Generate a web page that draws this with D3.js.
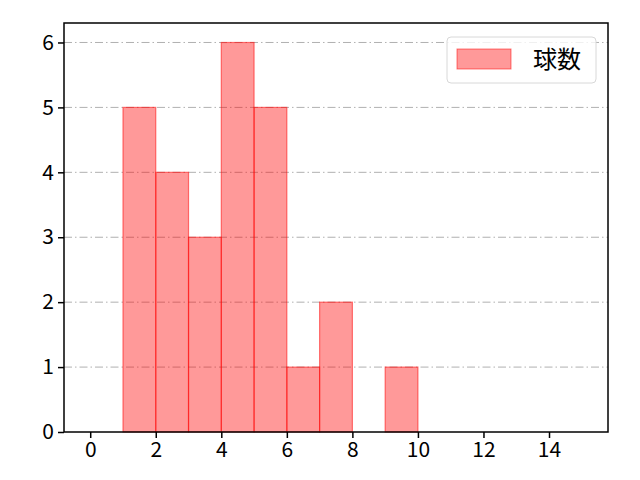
<!DOCTYPE html>
<html>
<head>
<meta charset="utf-8">
<script src="https://cdn.jsdelivr.net/npm/d3@7"></script>
<style>
  body { margin: 0; background: #fff; }
  text { font-family: "Noto Sans CJK JP", "Noto Sans", sans-serif; }
</style>
</head>
<body>
<svg id="chart" width="640" height="480"></svg>
<script>
// histogram bins (left edge) and counts
const binStarts = [1, 2, 3, 4, 5, 6, 7, 8, 9];
const counts = [5, 4, 3, 6, 5, 1, 2, 0, 1];
const xTicks = [0, 2, 4, 6, 8, 10, 12, 14];
const yTicks = [0, 1, 2, 3, 4, 5, 6];
const seriesName = "球数";

const svg = d3.select("#chart");
const m = { left: 64, right: 608, top: 23, bottom: 432 };

const x = d3.scaleLinear().domain([-0.8, 15.8]).range([m.left, m.right]);
const y = d3.scaleLinear().domain([0, 6.3]).range([m.bottom, m.top]);

// grid (horizontal, dash-dot)
svg.append("g").selectAll("line").data(yTicks.filter(d => d > 0)).join("line")
    .attr("x1", m.left).attr("x2", m.right)
    .attr("y1", d => y(d)).attr("y2", d => y(d))
    .attr("stroke", "#b0b0b0").attr("stroke-width", 1)
    .attr("stroke-dasharray", "8 3 1.5 3");

// bars
const bins = binStarts.map((s, i) => ({ x0: s, x1: s + 1, n: counts[i] })).filter(d => d.n > 0);
svg.append("g").selectAll("rect").data(bins).join("rect")
    .attr("x", d => x(d.x0)).attr("width", d => x(d.x1) - x(d.x0))
    .attr("y", d => y(d.n)).attr("height", d => y(0) - y(d.n))
    .attr("fill", "rgba(255,0,0,0.4)")
    .attr("stroke", "rgba(255,0,0,0.5)").attr("stroke-width", 1.2);

// axes
const xAxis = svg.append("g").attr("transform", `translate(0,${m.bottom})`)
    .call(d3.axisBottom(x).tickValues(xTicks).tickSize(6).tickPadding(4).tickFormat(d3.format("d")));
const yAxis = svg.append("g").attr("transform", `translate(${m.left},0)`)
    .call(d3.axisLeft(y).tickValues(yTicks).tickSize(6).tickPadding(4).tickFormat(d3.format("d")));
[xAxis, yAxis].forEach(a => {
    a.select(".domain").remove();
    a.attr("font-size", null).attr("font-family", null);
    a.selectAll(".tick line").attr("stroke", "#000").attr("stroke-width", 1.5);
    a.selectAll(".tick text").style("font-size", "21px").attr("fill", "#000");
});

// frame
svg.append("rect")
    .attr("x", m.left).attr("y", m.top)
    .attr("width", m.right - m.left).attr("height", m.bottom - m.top)
    .attr("fill", "none").attr("stroke", "#000").attr("stroke-width", 1.5);

// legend
const lg = svg.append("g").attr("transform", "translate(447,37)");
lg.append("rect").attr("width", 149).attr("height", 46).attr("rx", 4)
    .attr("fill", "rgba(255,255,255,0.8)").attr("stroke", "#d8d8d8");
lg.append("rect").attr("x", 10).attr("y", 12).attr("width", 54).attr("height", 20)
    .attr("fill", "rgba(255,0,0,0.4)").attr("stroke", "rgba(255,0,0,0.5)");
lg.append("text").attr("x", 86).attr("y", 31).style("font-size", "24px").text(seriesName);
</script>
</body>
</html>
